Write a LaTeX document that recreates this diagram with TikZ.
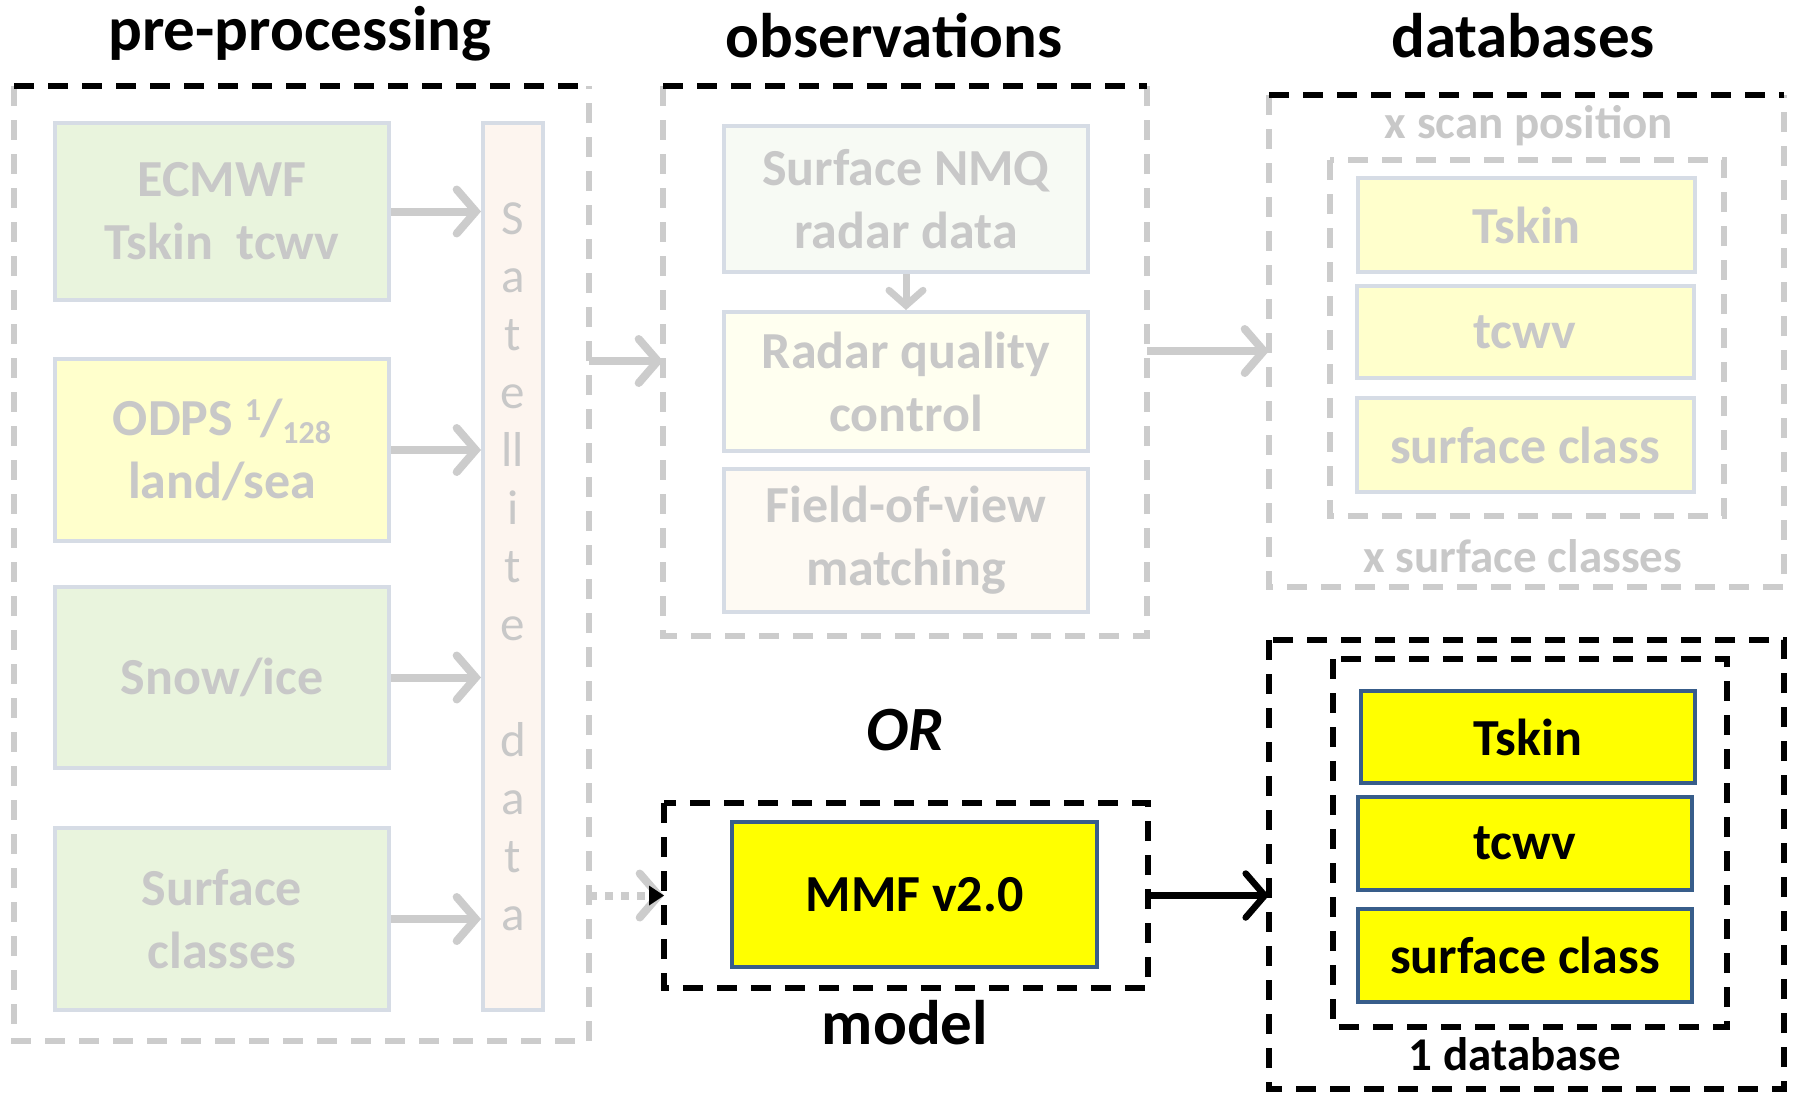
\documentclass[tikz,border=0pt]{standalone}
\usepackage{fontspec}
\setmainfont{Carlito}
\usetikzlibrary{arrows.meta}
\definecolor{gtxt}{RGB}{200,200,200}
\definecolor{gline}{RGB}{204,204,204}
\definecolor{bord}{RGB}{214,220,229}
\definecolor{greenf}{RGB}{233,244,221}
\definecolor{yelf}{RGB}{255,255,204}
\definecolor{satf}{RGB}{253,245,239}
\definecolor{nmqf}{RGB}{247,250,244}
\definecolor{qcf}{RGB}{255,255,240}
\definecolor{fovf}{RGB}{254,250,243}
\definecolor{dkblue}{RGB}{56,93,138}
\definecolor{pureyellow}{RGB}{255,255,0}
\begin{document}
\begin{tikzpicture}[x=1pt,y=-1pt,
 titletext/.style={font=\bfseries\fontsize{63}{70}\selectfont, inner sep=0},
 sublabel/.style={font=\bfseries\fontsize{47}{56}\selectfont, inner sep=0},
 palebox/.style={rectangle, draw=bord, line width=4pt, text=gtxt, font=\bfseries\fontsize{52}{63}\selectfont, align=center, inner sep=0},
 ybox/.style={rectangle, draw=dkblue, line width=4pt, fill=pureyellow, text=black, font=\bfseries\fontsize{52}{63}\selectfont, align=center, inner sep=0},
 framebox/.style={rectangle, draw=none, inner sep=0, outer sep=0},
 gdash/.style={draw=gline, line width=5.5pt, dash pattern=on 20pt off 14pt},
 kdash/.style={draw=black, line width=5.5pt, dash pattern=on 20pt off 14pt},
 garrow/.style={draw=gline, line width=8pt, -{Straight Barb[length=19pt, width=44pt, line cap=round]}},
 karrow/.style={draw=black, line width=6.5pt, -{Straight Barb[length=19pt, width=44pt, line cap=round]}},
]
\useasboundingbox[fill=white] (0,0) rectangle (1793,1092);

% titles
\node[titletext] (tpre) at (300,34) {pre-processing};
\node[titletext] (tobs) at (894,36) {observations};
\node[titletext] (tdb) at (1523,36) {databases};

% pre-processing frame
\node[framebox, minimum width=575, minimum height=955] (pre) at (301.5,563.5) {};
\draw[gdash] (pre.north west) -- (pre.south west) -- (pre.south east) -- (pre.north east);
\draw[kdash] (pre.north west) -- (pre.north east);

\node[palebox, fill=greenf, minimum width=334, minimum height=177] (ecmwf) at (222,211.5) {ECMWF\\Tskin\ \ tcwv};
\node[palebox, fill=yelf, minimum width=334, minimum height=182] (odps) at (222,450) {ODPS \raisebox{15pt}{\fontsize{32}{32}\selectfont 1}\kern-1pt/\raisebox{-8pt}{\fontsize{32}{32}\selectfont 128}\\land/sea};
\node[palebox, fill=greenf, minimum width=334, minimum height=181] (snow) at (222,677.5) {Snow/ice};
\node[palebox, fill=greenf, minimum width=334, minimum height=182] (surf) at (222,919) {Surface\\classes};
\node[palebox, fill=satf, minimum width=60, minimum height=887, font=\fontsize{49}{58}\selectfont] (sat) at (513,566.5) {S\\a\\t\\e\\ll\\i\\t\\e\\\mbox{}\\d\\a\\t\\a};

\draw[garrow] (ecmwf.east) -- (ecmwf.east -| sat.west);
\draw[garrow] (odps.east) -- (odps.east -| sat.west);
\draw[garrow] (snow.east) -- (snow.east -| sat.west);
\draw[garrow] (surf.east) -- (surf.east -| sat.west);

% observations frame
\node[framebox, minimum width=484, minimum height=550] (obs) at (905,361) {};
\draw[gdash] (obs.north west) -- (obs.south west) -- (obs.south east) -- (obs.north east);
\draw[kdash] (obs.north west) -- (obs.north east);

\node[palebox, fill=nmqf, minimum width=364, minimum height=146] (nmq) at (906,199) {Surface NMQ\\radar data};
\node[palebox, fill=qcf, minimum width=364, minimum height=139] (qc) at (906,381.5) {Radar quality\\control};
\node[palebox, fill=fovf, minimum width=364, minimum height=143] (fov) at (906,540.5) {Field-of-view\\matching};
\draw[garrow, line width=7pt, -{Straight Barb[length=15pt, width=34pt, line cap=round]}] (nmq.south) -- (qc.north);

\draw[garrow] (pre.east |- obs.west) -- (obs.west);

% databases frame (top)
\node[framebox, minimum width=515, minimum height=492] (db1) at (1526.5,341) {};
\draw[gdash] (db1.north west) -- (db1.south west) -- (db1.south east) -- (db1.north east);
\draw[kdash] (db1.north west) -- (db1.north east);
\node[sublabel, text=gtxt] (xscan) at (1529,126) {x scan position};
\node[framebox, minimum width=394, minimum height=356] (in1) at (1527,338) {};
\draw[gdash] (in1.north west) rectangle (in1.south east);
\node[palebox, fill=yelf, minimum width=337, minimum height=94] (ts1) at (1526.5,225) {Tskin};
\node[palebox, fill=yelf, minimum width=337, minimum height=92] (tc1) at (1525,332) {tcwv};
\node[palebox, fill=yelf, minimum width=337, minimum height=94] (sc1) at (1525,445) {surface class};
\node[sublabel, text=gtxt] (xsurf) at (1523,556) {x surface classes};

\draw[garrow] ([yshift=10pt]obs.east) -- ([yshift=10pt]obs.east -| db1.west);

% OR and model
\node[titletext, font=\bfseries\itshape\fontsize{63}{70}\selectfont] (or) at (905,730) {OR};
\node[framebox, minimum width=484, minimum height=185] (model) at (906,895.5) {};
\draw[kdash] (model.north west) rectangle (model.south east);
\node[ybox, minimum width=365, minimum height=145] (mmf) at (914.5,894.5) {MMF v2.0};
\node[titletext] (tmodel) at (905,1023) {model};

\draw[draw=gline, line width=8pt, dash pattern=on 8pt off 8pt, -{Straight Barb[length=19pt, width=44pt, line cap=round]}] (pre.east |- model.west) -- (model.west);
\draw[draw=none, fill=black] (model.west) -- ++(-15,-10) -- ++(0,20) -- cycle;

% databases frame (bottom)
\node[framebox, minimum width=515, minimum height=449] (db2) at (1526.5,864.5) {};
\draw[kdash] (db2.north west) rectangle (db2.south east);
\node[framebox, minimum width=394, minimum height=368] (in2) at (1530,843) {};
\draw[kdash] (in2.north west) rectangle (in2.south east);
\node[ybox, minimum width=334, minimum height=92] (ts2) at (1528,737) {Tskin};
\node[ybox, minimum width=334, minimum height=93] (tc2) at (1525,843.5) {tcwv};
\node[ybox, minimum width=334, minimum height=93] (sc2) at (1525,955.5) {surface class};
\node[sublabel] (onedb) at (1515,1054) {1 database};

\draw[karrow] (model.east) -- (model.east -| db2.west);
\end{tikzpicture}
\end{document}
